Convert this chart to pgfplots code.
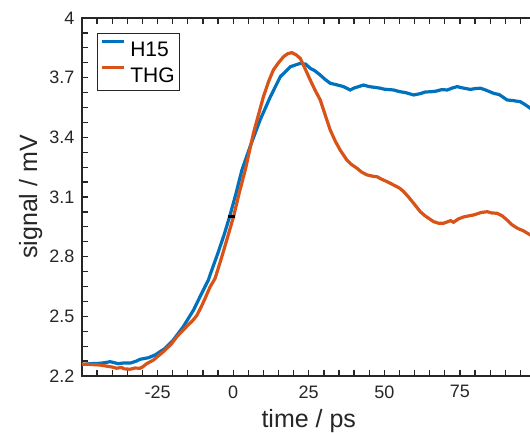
\documentclass[border=0pt]{standalone}
\usepackage{fontspec}
\setmainfont{Liberation Sans}
\usepackage{pgfplots}
\pgfplotsset{compat=1.18}
\definecolor{mblue}{HTML}{0072BD}
\definecolor{morange}{HTML}{D95319}
\definecolor{axgray}{HTML}{262626}
\begin{document}
\begin{tikzpicture}
\begin{axis}[
  name=ax,
  scale only axis,
  width=453.5pt, height=358pt,
  xmin=-50, xmax=100, ymin=2.2, ymax=4,
  xtick={-25,0,25,50,75},
  xticklabels={-25,0,25,50,75},
  minor xtick={-50,-45,...,100},
  ytick={2.2,2.5,2.8,3.1,3.4,3.7,4},
  yticklabels={2.2,2.5,2.8,3.1,3.4,3.7,4},
  minor ytick={2.275,2.35,2.425,2.575,2.65,2.725,2.875,2.95,3.025,3.175,3.25,3.325,3.475,3.55,3.625,3.775,3.85,3.925},
  xmajorticks=true, ymajorticks=true, xminorticks=true, yminorticks=true,
  tick align=inside,
  major tick length=6pt, minor tick length=6pt,
  axis line style={axgray, line width=1.4pt},
  tick style={axgray, line width=1.3pt},
  major tick style={axgray, line width=1.3pt},
  minor tick style={axgray, line width=1.3pt},
  tick label style={font=\fontsize{18}{20}\selectfont, text=axgray},
  xticklabel style={yshift=-6pt},
  yticklabel style={xshift=-4pt},
  xlabel={time / ps},
  ylabel={signal / mV},
  label style={font=\fontsize{25}{28}\selectfont, text=axgray},
  xlabel style={at={(axis description cs:0.5,0)}, anchor=base, yshift=-51pt},
  ylabel style={at={(axis description cs:-0.0992,0.5)}, anchor=base},
  legend style={at={(axis description cs:0.0331,0.958)}, anchor=north west,
    draw=axgray, line width=1.2pt, font=\fontsize{21}{23}\selectfont,
    inner xsep=2.7pt, inner ysep=5.5pt, row sep=7.7pt, column sep=2.8pt,
    nodes={inner sep=2pt, text height=15pt, text depth=0pt, text=black}},
  legend cell align=left,
  legend image code/.code={\draw[#1, line width=3.2pt] (0pt,7.5pt) -- (22pt,7.5pt);},
]
\addplot[mblue, line width=3.2pt] coordinates {
(-50,2.258) (-47,2.262) (-44,2.264) (-42,2.268) (-40.7,2.272) (-38,2.262) (-36,2.266) (-34,2.265) (-32,2.275) (-30.8,2.284) (-28,2.292) (-25.8,2.306) (-22.5,2.339) (-19.8,2.381) (-16.5,2.448) (-13.1,2.532) (-10.4,2.616) (-8.2,2.683) (-7.6,2.71) (-5,2.82) (-3,2.91) (-1.2,3.0) (0.8,3.11) (2.9,3.236) (5.6,3.353) (8.9,3.487) (12.3,3.604) (15.6,3.705) (18.9,3.755) (22.2,3.772) (24,3.768) (25.5,3.747) (27,3.735) (28.8,3.713) (30.5,3.69) (32.1,3.672) (34,3.665) (36.5,3.655) (38.7,3.638) (40,3.648) (41.5,3.655) (43.1,3.663) (45,3.655) (46.5,3.652) (48.7,3.647) (50,3.642) (53.1,3.638) (55,3.63) (57,3.625) (59.7,3.613) (62,3.62) (63.5,3.628) (65.2,3.629) (67,3.632) (69,3.64) (70.8,3.638) (72.5,3.648) (74.1,3.655) (76,3.648) (78.5,3.641) (80,3.645) (81.8,3.647) (83.5,3.638) (86.2,3.621) (88,3.615) (90.6,3.588) (92.5,3.585) (95,3.579) (96.5,3.565) (98.3,3.546) (100,3.53)
};
\addlegendentry{H15}
\addplot[morange, line width=3.2pt] coordinates {
(-50,2.26) (-47,2.258) (-44,2.255) (-42,2.25) (-40,2.245) (-38.5,2.239) (-37,2.243) (-36,2.236) (-34.1,2.234) (-32.5,2.24) (-30.8,2.239) (-30,2.245) (-28.6,2.262) (-26.4,2.28) (-23.1,2.322) (-20.5,2.36) (-18.6,2.398) (-15.3,2.45) (-13.5,2.477) (-12,2.505) (-10.5,2.55) (-9.3,2.59) (-7.6,2.649) (-6,2.69) (-4,2.787) (-2,2.89) (0.1,3.0) (2,3.12) (4,3.236) (6.7,3.42) (10,3.604) (11.7,3.68) (13.3,3.739) (15,3.775) (16.7,3.806) (18,3.82) (19.4,3.826) (20.8,3.815) (22.2,3.797) (23.8,3.745) (25.5,3.688) (27,3.64) (28.8,3.588) (30.5,3.51) (32.1,3.437) (33.8,3.38) (35.4,3.336) (37.6,3.286) (39,3.265) (41,3.244) (42.5,3.225) (44.3,3.211) (46,3.205) (47.6,3.202) (49,3.19) (50.5,3.18) (52,3.169) (53.1,3.16) (55,3.145) (56.4,3.127) (58,3.1) (59.7,3.068) (61.9,3.026) (63.5,3.005) (66.3,2.976) (68,2.968) (69.6,2.968) (71.9,2.981) (72.9,2.973) (74.5,2.99) (76.3,3.0) (79.6,3.01) (82,3.022) (84,3.026) (85.5,3.02) (87.3,3.018) (89,3.005) (90.6,2.984) (92,2.963) (94,2.943) (96,2.93) (98.3,2.909) (100,2.895)
};
\addlegendentry{THG}
\addplot[black, only marks, mark=-, mark size=3.5pt, mark options={line width=3pt}, forget plot] coordinates {(-0.5,3.0)};
\end{axis}
\pgfresetboundingbox
\path[use as bounding box] (ax.south west) ++(-82pt,-56pt) rectangle ++(530pt,432pt);
\end{tikzpicture}
\end{document}
